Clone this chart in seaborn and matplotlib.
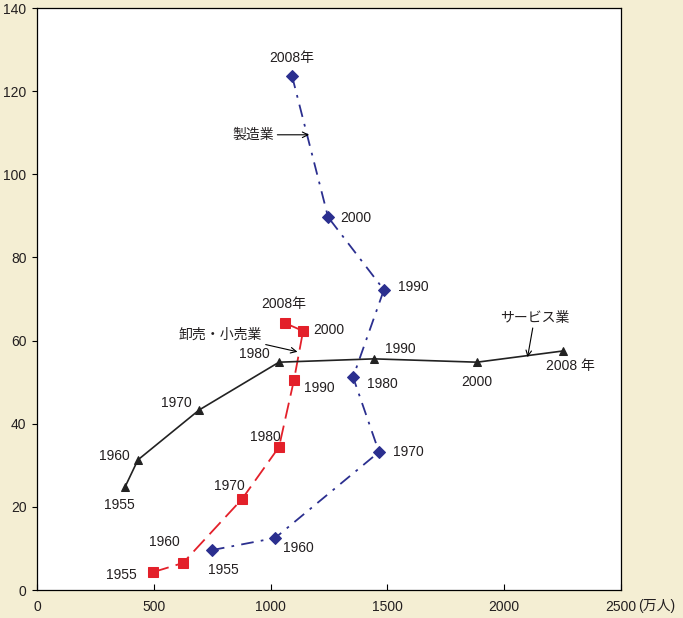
import seaborn as sns
import matplotlib.pyplot as plt
import pandas as pd

# 就業者数(万人) vs 値
years = ['1955', '1960', '1970', '1980', '1990', '2000', '2008年']
srv_years = ['1955', '1960', '1970', '1980', '1990', '2000', '2008 年']

mfg_x = [749, 1019, 1464, 1353, 1485, 1246, 1092]
mfg_y = [9.6, 12.5, 33.2, 51.2, 72.2, 89.7, 123.6]

ret_x = [497, 625, 878, 1036, 1100, 1139, 1062]
ret_y = [4.3, 6.5, 21.9, 34.4, 50.5, 62.3, 64.2]

srv_x = [377, 432, 694, 1036, 1443, 1884, 2252]
srv_y = [24.8, 31.3, 43.3, 54.8, 55.6, 54.8, 57.5]

xticks = [0, 500, 1000, 1500, 2000, 2500]
yticks = [0, 20, 40, 60, 80, 100, 120, 140]

sns.set_style('ticks')
plt.rcParams['font.family'] = ['Liberation Sans', 'Noto Sans CJK JP']

fig = plt.figure(figsize=(6.83, 6.18), dpi=100, facecolor='#f4eed3')
ax = fig.add_axes([37 / 683, 1 - 590 / 618, 584 / 683, 582 / 618])
ax.set_facecolor('white')

blue = '#2b2f8f'
red = '#e3202a'
black = '#222222'
txt = '#231f20'

mfg = pd.DataFrame({'x': mfg_x, 'y': mfg_y})
ret = pd.DataFrame({'x': ret_x, 'y': ret_y})
srv = pd.DataFrame({'x': srv_x, 'y': srv_y})

sns.lineplot(data=mfg, x='x', y='y', sort=False, estimator=None, ax=ax, color=blue,
             lw=1.3, marker='D', markersize=6, markeredgecolor=blue)
ax.lines[-1].set_dashes([7, 4, 1.5, 4])
sns.lineplot(data=ret, x='x', y='y', sort=False, estimator=None, ax=ax, color=red,
             lw=1.3, marker='s', markersize=6.5, markeredgecolor=red)
ax.lines[-1].set_dashes([9, 4])
sns.lineplot(data=srv, x='x', y='y', sort=False, estimator=None, ax=ax, color=black,
             lw=1.2, marker='^', markersize=6, markeredgecolor=black)

fs = 10
# label offsets in points
mfg_off = [(8, -14, 'center'), (6, -7, 'left'), (10, 0, 'left'), (10, -5, 'left'),
           (10, 2, 'left'), (9, -1, 'left'), (0, 13, 'center')]
ret_off = [(-12, -2, 'right'), (-2, 15, 'right'), (2, 9, 'right'), (1, 7, 'right'),
           (7, -6, 'left'), (7, 1, 'left'), (-1, 14, 'center')]
srv_off = [(-4, -13, 'center'), (-6, 3, 'right'), (-5, 5, 'right'), (-7, 6, 'right'),
           (8, 7, 'left'), (0, -14, 'center'), (5, -11, 'center')]
for xs, ys, labs, offs in [(mfg_x, mfg_y, years, mfg_off), (ret_x, ret_y, years, ret_off),
                           (srv_x, srv_y, srv_years, srv_off)]:
    for x, y, lab, (dx, dy, ha) in zip(xs, ys, labs, offs):
        ax.annotate(lab, (x, y), xytext=(dx, dy), textcoords='offset points',
                    ha=ha, va='center', fontsize=fs, color=txt)

arrow = dict(arrowstyle='->', color='black', lw=0.8, shrinkA=0, shrinkB=0)
ax.annotate('製造業', xy=(1165, 109.5), xytext=(1015, 109.5), ha='right', va='center',
            fontsize=fs, color=txt, arrowprops=arrow)
ax.annotate('卸売・小売業', xy=(1115, 57.3), xytext=(965, 61.5), ha='right', va='center',
            fontsize=fs, color=txt, arrowprops=arrow)
ax.annotate('サービス業', xy=(2100, 56.0), xytext=(2130, 65.5), ha='center', va='center',
            fontsize=fs, color=txt, arrowprops=arrow)

ax.set_xlim(0, 2500)
ax.set_ylim(0, 140)
ax.set_xticks(xticks)
ax.set_yticks(yticks)
ax.set_xlabel('')
ax.set_ylabel('')
ax.tick_params(axis='x', direction='in', length=4, width=0.8, colors='black',
               labelcolor=txt, labelsize=fs, pad=7)
ax.tick_params(axis='y', direction='out', length=3.5, width=0.8, colors='black',
               labelcolor=txt, labelsize=fs, pad=4)
ax.annotate('(万人)', (2500, 0), xytext=(12, -11.5), textcoords='offset points',
            fontsize=10, color=txt, ha='left', va='center', annotation_clip=False)
for s in ax.spines.values():
    s.set_visible(True)
    s.set_color('black')
    s.set_linewidth(0.9)

fig.savefig('out.png', dpi=100, facecolor=fig.get_facecolor())
